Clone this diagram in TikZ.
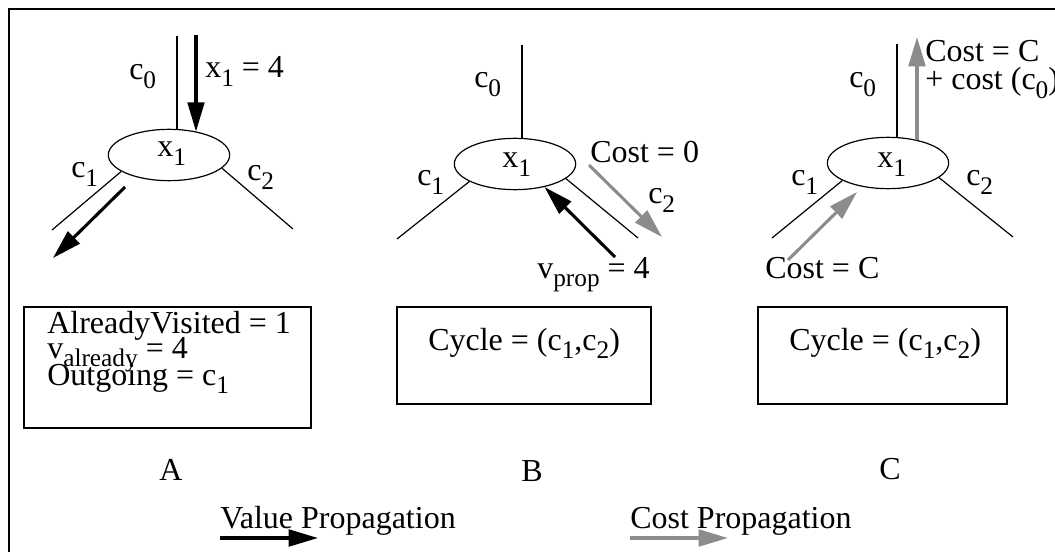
\documentclass[tikz,border=0pt]{standalone}
\usepackage{fontspec}
\setmainfont{Liberation Serif}
\usetikzlibrary{arrows.meta,shapes.geometric}
\newcommand{\sbs}[1]{\raisebox{-0.26em}{\fontsize{19}{20}\selectfont #1}}
\definecolor{costgray}{HTML}{8C8C8C}
\tikzset{
  txt/.style={anchor=base west,inner sep=0pt,font=\fontsize{24}{26}\selectfont},
  ctxt/.style={anchor=base,inner sep=0pt,font=\fontsize{24}{26}\selectfont},
  thin/.style={line width=0.9pt},
  varnode/.style={ellipse,draw,line width=0.9pt,minimum width=91pt,minimum height=38.5pt,inner sep=0pt},
  valarrow/.style={line width=2.3pt,-{Triangle[length=22pt,width=12.5pt]},black},
  costarrow/.style={line width=2.3pt,-{Triangle[length=22pt,width=12.5pt]},costgray},
  boxst/.style={draw,line width=1.5pt,inner sep=0pt}
}
\begin{document}
\begin{tikzpicture}[x=0.75pt,y=-0.75pt]
\useasboundingbox (0,0) rectangle (1055,552);
% frame
\draw[line width=1.5pt] (9,570) -- (9,9) -- (1075,9);

% ===== Panel A =====
\node[varnode] (ea) at (169,155) {};
\node[txt] (ax) at (157,157) {x\sbs{1}};
\coordinate (a0) at (177,36);
\coordinate (a1) at (52,230);
\coordinate (a2) at (293,229);
\draw[thin] (a0) -- (a0 |- ea.72);
\draw[thin] (ea.199) -- (a1);
\draw[thin] (ea.346) -- (a2);
\coordinate (av) at (196,35);
\draw[valarrow] (av) -- (av |- ea.40);
\coordinate (aos) at (125,187);
\coordinate (aoe) at (53,258);
\draw[valarrow] (aos) -- (aoe);
\node[txt] (ac0) at (129,80) {c\sbs{0}};
\node[txt] (axv) at (205,78) {x\sbs{1} = 4};
\node[txt] (ac1) at (71,178) {c\sbs{1}};
\node[txt] (ac2) at (247,181) {c\sbs{2}};

% ===== Panel B =====
\node[varnode] (eb) at (515,164) {};
\node[txt] (bx) at (502,168) {x\sbs{1}};
\coordinate (b0) at (522,45);
\coordinate (b1) at (397,239);
\coordinate (b2) at (638,238);
\draw[thin] (b0) -- (b0 |- eb.75);
\draw[thin] (eb.201) -- (b1);
\draw[thin] (eb.344) -- (b2);
\coordinate (bcs) at (589,165);
\coordinate (bce) at (662,237);
\draw[costarrow] (bcs) -- (bce);
\coordinate (bvs) at (615,257);
\draw[valarrow] (bvs) -- (eb.322);
\node[txt] (bc0) at (474,88) {c\sbs{0}};
\node[txt] (bc1) at (417,186) {c\sbs{1}};
\node[txt] (bc2) at (648,204) {c\sbs{2}};
\node[txt] (bcost) at (590,163) {Cost = 0};
\node[txt] (bvp) at (537,278) {v\sbs{prop} = 4};

% ===== Panel C =====
\node[varnode] (ec) at (888,163) {};
\node[txt] (cx) at (877,168) {x\sbs{1}};
\coordinate (c0) at (897,44);
\coordinate (c1) at (772,238);
\coordinate (c2) at (1013,237);
\draw[thin] (c0) -- (c0 |- ec.70);
\draw[thin] (ec.201) -- (c1);
\draw[thin] (ec.344) -- (c2);
\coordinate (ctop) at (917,37);
\draw[costarrow] (ctop |- ec.38) -- (ctop);
\coordinate (ccs) at (788,260);
\coordinate (cce) at (857,192);
\draw[costarrow] (ccs) -- (cce);
\node[txt] (cc0) at (849,88) {c\sbs{0}};
\node[txt] (cc1) at (791,186) {c\sbs{1}};
\node[txt] (cc2) at (966,186) {c\sbs{2}};
\node[txt] (ccostA) at (925,62) {Cost = C};
\node[txt] (ccostB) at (925,90) {+ cost (c\sbs{0})};
\node[txt] (ccostC) at (765,278) {Cost = C};

% ===== Boxes =====
\node[boxst,minimum width=215pt,minimum height=90.75pt] (boxA) at (167.5,367.5) {};
\node[txt] (bA1) at (47,333) {AlreadyVisited = 1};
\node[txt] (bA2) at (47,358) {v\sbs{already} = 4};
\node[txt] (bA3) at (47,385) {Outgoing = c\sbs{1}};
\node[boxst,minimum width=190.5pt,minimum height=72.75pt] (boxB) at (524,355.5) {};
\node[txt] (bB) at (428,350) {Cycle = (c\sbs{1},c\sbs{2})};
\node[boxst,minimum width=186.75pt,minimum height=72.75pt] (boxC) at (882.5,355.5) {};
\node[txt] (bC) at (789,350) {Cycle = (c\sbs{1},c\sbs{2})};

% ===== Labels =====
\node[ctxt] (lA) at (171,480) {A};
\node[ctxt] (lB) at (532,481) {B};
\node[ctxt] (lC) at (890,479) {C};

% ===== Legend =====
\node[txt] (legV) at (220,528) {Value Propagation};
\node[txt] (legC) at (630,528) {Cost Propagation};
\coordinate (lvs) at (220,538);
\coordinate (lve) at (318,538);
\coordinate (lcs) at (630,538);
\coordinate (lce) at (728,538);
\draw[valarrow] (lvs) -- (lve);
\draw[costarrow] (lcs) -- (lce);
\end{tikzpicture}
\end{document}
